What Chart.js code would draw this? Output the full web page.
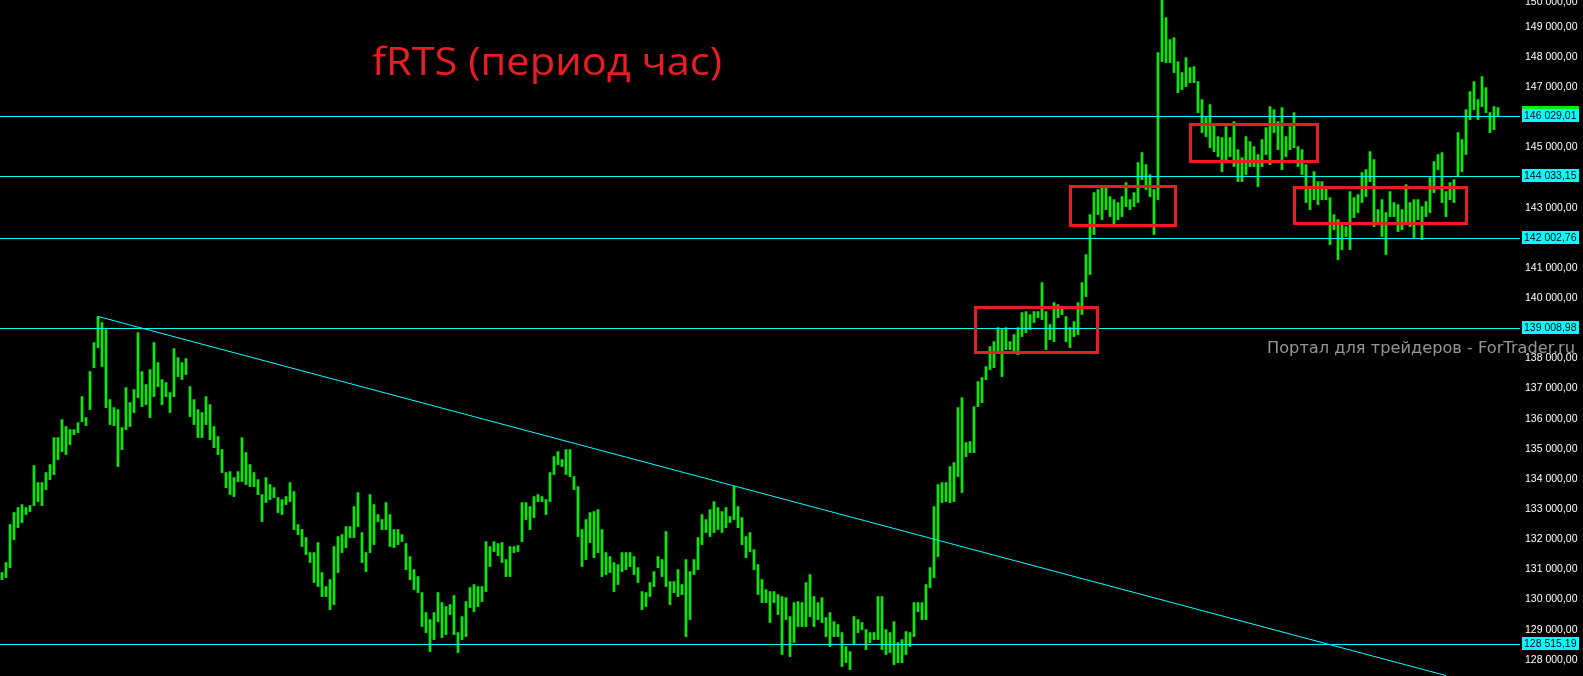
<!DOCTYPE html>
<html>
<head>
<meta charset="utf-8">
<script src="https://cdn.jsdelivr.net/npm/chart.js@4.4.1/dist/chart.umd.min.js"></script>
<style>
  html, body { margin: 0; padding: 0; background: #000; overflow: hidden; }
  canvas { display: block; }
</style>
</head>
<body>
<canvas id="chart" width="1583" height="676"></canvas>
<script>
// fRTS hourly bars: high / low per bar
const highs = [
  130894,131225,132486,132884,133050,133149,133050,133116,134443,133879,
  133879,134211,134476,135372,135372,135969,135736,135637,135637,135869,
  136732,136035,137561,138523,139385,139186,138954,136632,136367,136300,
  135703,137030,136532,136964,138854,137561,137130,137627,138523,137859,
  137295,137196,136864,138324,138025,137859,137992,137063,136632,136300,
  136201,136732,136466,135736,135405,134973,134211,134244,134045,134244,
  135372,134874,134476,134211,133978,133481,134045,133813,133713,133381,
  133315,133415,133879,133580,132486,132320,132055,131557,131557,131889,
  130894,130429,130661,131756,132088,132154,132419,132419,133083,133547,
  132220,131557,133481,133149,132817,132652,133215,132817,132320,132320,
  132154,131856,131424,130993,130761,130230,129567,129335,129567,130230,
  129898,129766,129832,130131,128903,129434,129932,130396,130496,130429,
  130429,131922,131756,131922,131856,131889,131325,131756,131756,131789,
  133215,133215,133083,133415,133481,133415,133315,134211,134741,134907,
  134642,134973,134973,134078,133746,132320,132652,132884,132917,132983,
  132320,131557,131424,131225,131159,131557,131557,131557,131424,131059,
  130263,130230,130562,130927,131424,131325,132254,130595,130595,130993,
  130496,131325,130927,131325,132055,132817,132652,132983,133249,133050,
  132917,133050,132751,133746,133083,132718,132088,132220,131656,131159,
  130661,130330,130263,130263,130164,130098,130064,129434,129898,129932,
  129898,130562,130827,130098,129898,130064,129401,129567,129268,129169,
  128903,128439,128273,129434,129335,129235,129003,128903,128903,130098,
  130098,129003,128903,129268,128572,128671,128937,128903,129898,129898,
  129898,130496,131059,133083,133813,133879,133879,134410,134542,136367,
  136698,135206,135239,136400,137229,137362,137727,138390,138556,139020,
  138954,139020,138556,138788,139020,139518,139551,139451,139551,139551,
  140513,139551,139120,139849,139783,139717,139385,139020,139219,139849,
  140513,141442,142768,143498,143598,143697,143664,143365,143266,143166,
  143365,143830,143266,143498,144493,144825,144427,144095,143598,148142,
  149950,149303,148573,148640,147843,147479,147976,147644,147678,147180,
  146583,145986,146417,145754,145356,145323,145687,145323,145853,144924,
  144659,145356,145190,145024,144759,145256,145654,146351,146251,145853,
  146318,145356,145687,146152,145024,144924,144427,143697,144195,143863,
  143863,143664,143332,142768,142603,142503,142370,143531,143332,143432,
  144162,144261,144858,144593,142934,143266,142835,143531,143166,143100,
  142934,143764,143166,143266,143266,143034,143200,143996,144526,144759,
  144825,143531,143830,143929,145488,145256,146251,146848,147180,146583,
  147346,146981,146152,146351,146318
];
const lows = [
  130661,130728,131059,131988,132386,132552,132817,132917,133116,133249,
  133116,133647,133978,134144,134642,134907,134808,135139,135471,135537,
  135902,135770,136300,137693,138357,137727,136367,135803,135770,134410,
  134973,135637,135736,136201,136698,136400,136466,136035,136732,137063,
  136466,136732,136201,136732,137395,137295,137461,136068,135803,135372,
  135372,135803,135305,135040,134808,134211,133713,133481,133415,133912,
  133912,133813,133746,133746,133481,132585,133215,133315,133381,132884,
  132817,133149,133249,132320,132154,131756,131491,131225,130562,130429,
  130098,130098,129666,129832,130894,131557,131723,132055,132055,132419,
  131225,130927,131557,131822,132585,132320,132320,131756,131723,131822,
  131922,130993,130661,130330,130230,129102,128903,128273,128671,129268,
  128738,128837,129500,128837,128240,128671,128771,129733,129600,129766,
  129932,130263,131093,131590,131457,131225,130761,130761,131557,131590,
  131922,132652,132320,132718,133249,133249,132817,133249,134144,134476,
  134410,134144,134078,133647,132088,131093,131325,131889,131391,131557,
  130761,130827,130894,130263,130496,130927,130993,131093,130827,130562,
  129666,129766,130098,130429,131059,130761,130429,129832,130230,130098,
  130164,128771,129335,130827,130993,131822,132220,132088,132220,132320,
  132220,132386,132552,132652,132386,131822,131391,131590,130993,130164,
  129898,129898,129235,129898,129500,128174,129335,128107,128572,129102,
  129102,129102,129434,129102,129335,129235,128771,128439,128771,128771,
  127776,127908,127676,128505,128903,129003,128339,128572,128671,128671,
  128339,128174,128240,127842,127908,127908,128174,128439,128771,129600,
  129335,129335,130396,130728,131424,133215,133249,133215,133249,134078,
  133547,134741,134874,134874,136400,136532,137295,137627,137693,138191,
  137395,138290,138290,138224,138125,138722,138854,138954,139186,139352,
  139286,138290,138622,138556,139352,139451,138556,138357,138722,138788,
  139451,140049,140778,142105,142768,142603,142934,142702,142370,142603,
  142702,143034,142934,143034,143166,143929,143598,143365,142105,143266,
  147843,147810,147810,147479,146815,146915,147014,147147,147147,146152,
  145488,145356,144991,144858,144692,144195,144493,144692,144361,143863,
  143863,144095,144361,144361,143697,144361,144759,144427,145488,144924,
  144261,144692,144924,144991,144361,144095,143166,142934,143266,143100,
  143266,143266,141773,142271,141276,141607,142039,141607,142669,142835,
  143166,143365,143863,142370,142503,142039,141442,142702,142702,142205,
  142271,142503,142370,142006,142603,141939,142702,142835,143498,144261,
  143166,142702,143266,143166,144029,144195,144759,145920,146251,145920,
  146351,146152,145488,145588,146019
];

// horizontal levels with their price labels
const priceLines = [146029.01, 144033.15, 142002.76, 139008.98, 128515.19];
// price scale ticks
const axisTicks = [128000, 129000, 130000, 131000, 132000, 133000, 134000, 135000, 136000, 137000,
  138000, 139000, 140000, 141000, 142000, 143000, 144000, 145000, 146000, 147000, 148000, 149000, 150000];
// trend line: [bar index, price]
const trendFrom = [24, 139390];
const trendTo = [361, 127477];
// consolidation boxes: bar index from/to, price high/low
const boxFrom = [243.2, 266.9, 296.9, 322.9];
const boxTo = [273.8, 293.1, 328.6, 365.9];
const boxHigh = [139700, 143714, 145770, 143681];
const boxLow = [138217, 142420, 144543, 142487];

const title = 'fRTS (период час)';
const watermark = 'Портал для трейдеров - ForTrader.ru';

const GREEN = '#00ee00';
const CYAN = '#00ffff';
const RED = '#ec1c24';
const AXIS_FONT = '10.5px "Liberation Sans"';

const fmt = v => {
  const [i, d] = Number(v).toFixed(2).split('.');
  return i.replace(/\B(?=(\d{3})+$)/g, ' ') + ',' + d;
};

const overlay = {
  id: 'overlay',
  beforeDraw(chart) {
    const { ctx, width, height } = chart;
    ctx.save();
    ctx.fillStyle = '#000';
    ctx.fillRect(0, 0, width, height);
    // watermark
    ctx.font = '15px "DejaVu Sans"';
    ctx.fillStyle = '#9a9494';
    ctx.textAlign = 'right';
    ctx.textBaseline = 'alphabetic';
    const w = ctx.measureText(watermark).width;
    ctx.translate(1575, 353);
    ctx.scale(308 / w, 1);
    ctx.fillText(watermark, 0, 0);
    ctx.restore();
  },
  afterDatasetsDraw(chart) {
    const { ctx, chartArea: a, scales: { x, y } } = chart;
    ctx.save();
    ctx.beginPath();
    ctx.rect(a.left, a.top, a.right - a.left, a.bottom - a.top);
    ctx.clip();

    // levels
    ctx.strokeStyle = CYAN;
    ctx.lineWidth = 1;
    priceLines.forEach(p => {
      const py = Math.round(y.getPixelForValue(p)) + 0.5;
      ctx.beginPath();
      ctx.moveTo(a.left, py);
      ctx.lineTo(a.right, py);
      ctx.stroke();
    });

    // trend line
    ctx.beginPath();
    ctx.moveTo(x.getPixelForValue(trendFrom[0]), y.getPixelForValue(trendFrom[1]));
    ctx.lineTo(x.getPixelForValue(trendTo[0]), y.getPixelForValue(trendTo[1]));
    ctx.stroke();

    // boxes
    ctx.strokeStyle = RED;
    ctx.lineWidth = 3;
    ctx.lineJoin = 'miter';
    boxFrom.forEach((b, i) => {
      const x0 = x.getPixelForValue(b), x1 = x.getPixelForValue(boxTo[i]);
      const y0 = y.getPixelForValue(boxHigh[i]), y1 = y.getPixelForValue(boxLow[i]);
      ctx.strokeRect(Math.round(x0) + 0.5, Math.round(y0) + 0.5, Math.round(x1 - x0), Math.round(y1 - y0));
    });
    ctx.restore();
  },
  afterDraw(chart) {
    const { ctx, scales: { y } } = chart;
    ctx.save();
    ctx.font = AXIS_FONT;
    ctx.textAlign = 'left';
    ctx.textBaseline = 'middle';

    // top tick sits partly above the window
    const top = axisTicks[axisTicks.length - 1];
    ctx.fillStyle = '#fff';
    ctx.fillText(fmt(top), y.left + 5, Math.max(y.getPixelForValue(top), 2));

    // level labels
    priceLines.forEach((p, i) => {
      const py = Math.round(y.getPixelForValue(p));
      if (i === 0) {
        ctx.fillStyle = GREEN;
        ctx.fillRect(y.left + 2, py - 10, 57, 3);
      }
      ctx.fillStyle = CYAN;
      ctx.fillRect(y.left + 2, py - 7, 57, 13);
      ctx.fillStyle = '#000';
      ctx.fillText(fmt(p), y.left + 4, py);
    });

    // title
    ctx.font = '39px "Open Sans"';
    ctx.fillStyle = RED;
    ctx.textBaseline = 'alphabetic';
    const w = ctx.measureText(title).width;
    ctx.translate(372, 75);
    ctx.scale(350 / w, 1);
    ctx.fillText(title, 0, 0);
    ctx.restore();
  }
};

new Chart(document.getElementById('chart'), {
  type: 'bar',
  data: {
    datasets: [{
      data: highs.map((h, i) => ({ x: i, y: [lows[i], h] })),
      backgroundColor: GREEN,
      borderWidth: 0,
      barThickness: 2
    }]
  },
  options: {
    responsive: false,
    animation: false,
    events: [],
    layout: { padding: 0 },
    plugins: { legend: { display: false }, tooltip: { enabled: false } },
    scales: {
      x: { type: 'linear', min: -0.5, max: 379.5, offset: false, display: false },
      y: {
        position: 'right',
        min: 127463,
        max: 149887,
        grid: { display: false, drawTicks: false },
        border: { display: false },
        afterBuildTicks: s => {
          s.ticks = axisTicks
            .filter(v => v < s.max && priceLines.every(p => Math.abs(p - v) > 400))
            .map(v => ({ value: v }));
        },
        afterFit: s => { s.width = 63; s.paddingTop = 0; s.paddingBottom = 0; },
        ticks: {
          color: '#fff',
          font: { family: 'Liberation Sans', size: 10.5 },
          padding: 5,
          autoSkip: false,
          callback: v => fmt(v)
        }
      }
    }
  },
  plugins: [overlay]
});
</script>
</body>
</html>
